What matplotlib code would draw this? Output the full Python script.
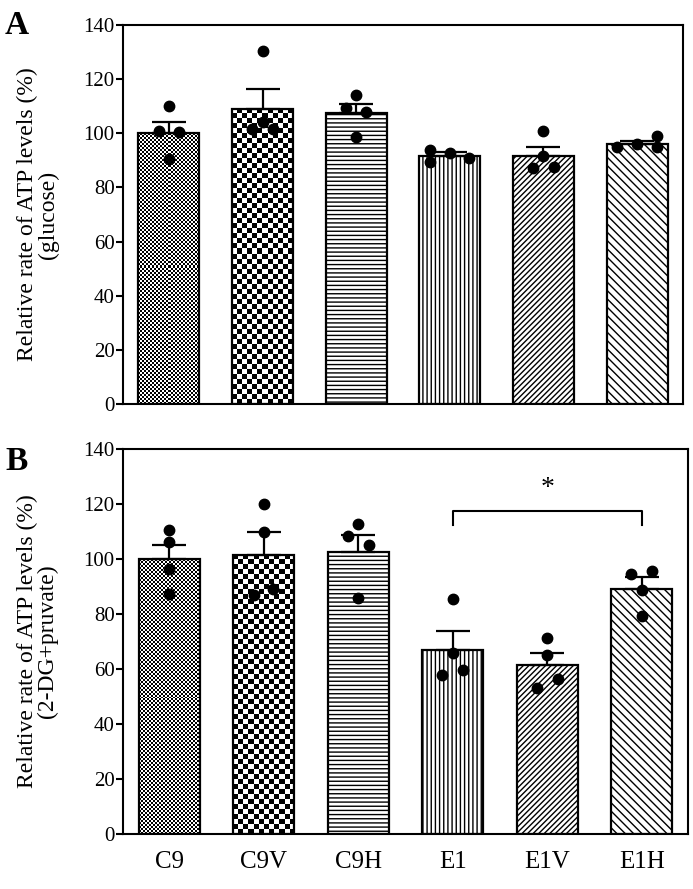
import numpy as np
import matplotlib
matplotlib.use('Agg')
import matplotlib.pyplot as plt

plt.rcParams['font.family'] = ['Liberation Serif', 'DejaVu Serif']
plt.rcParams['hatch.linewidth'] = 1.0

groups = ['C9', 'C9V', 'C9H', 'E1', 'E1V', 'E1H']

# panel A (glucose)
mean_a = [100, 109, 107.5, 91.5, 91.5, 96]
sem_a = [4, 7.5, 3.5, 1.5, 3.5, 1]
pts_a = [[101, 110, 100.5, 90.5],
         [101.5, 104, 101.5, 130.5],
         [109.5, 114.3, 107.7, 98.5],
         [94, 89.3, 92.6, 90.8],
         [87, 91.5, 87.5, 100.7],
         [94.9, 96, 98.9, 94.9]]
jit_a = [[-0.11, 0, 0.11, 0],
         [-0.11, 0, 0.11, 0],
         [-0.11, 0, 0.11, 0],
         [-0.21, -0.21, 0, 0.21],
         [-0.11, 0, 0.11, 0],
         [-0.21, 0, 0.21, 0.21]]

# panel B (2-DG+pruvate)
mean_b = [100, 101.5, 102.6, 67, 61.3, 89.2]
sem_b = [5.2, 8.2, 6.3, 6.7, 4.5, 4.1]
pts_b = [[110.4, 106.3, 96.3, 87.4],
         [120, 110, 87, 89.2],
         [112.6, 108.2, 105.2, 85.9],
         [85.5, 65.8, 58, 59.5],
         [71.4, 65, 53.2, 56.5],
         [94.4, 95.5, 88.8, 79.2]]
jit_b = [[0, 0, 0, 0],
         [0, 0, -0.1, 0.1],
         [0, -0.11, 0.11, 0],
         [0, 0, -0.11, 0.11],
         [0, 0, -0.11, 0.11],
         [-0.11, 0.11, 0, 0]]

# fill styles: ('checker', cell px) or hatch string
fills = [('checker', 2.0), ('checker', 5.0), '----', '||||', '//////', '\\\\\\\\']

W, H = 693, 889
fig = plt.figure(figsize=(W / 100, H / 100), dpi=100)
ax_a = fig.add_axes([123 / W, 1 - 404 / H, 560 / W, 379 / H])
ax_b = fig.add_axes([123 / W, 1 - 834 / H, 565 / W, 385 / H])


def draw_panel(ax, means, sems, pts, jit, ylabel, show_x):
    x = np.arange(len(groups))
    ax.set_xlim(-0.49, 5.49)
    ax.set_ylim(0, 140)
    px_x = ax.transData.transform((1, 0))[0] - ax.transData.transform((0, 0))[0]
    px_y = ax.transData.transform((0, 1))[1] - ax.transData.transform((0, 0))[1]
    bw = 0.65
    for i, m in enumerate(means):
        f = fills[i]
        if isinstance(f, tuple):
            cell = f[1]
            nx = max(1, int(round(bw * px_x / cell)))
            ny = max(1, int(round(m * px_y / cell)))
            arr = np.add.outer(np.arange(ny), np.arange(nx)) % 2
            ax.imshow(arr, cmap='gray_r', vmin=0, vmax=1, origin='lower',
                      extent=(x[i] - bw / 2, x[i] + bw / 2, 0, m),
                      aspect='auto', interpolation='nearest', zorder=1)
            ax.bar(x[i], m, width=bw, facecolor='none', edgecolor='k',
                   linewidth=1.6, zorder=2)
        else:
            ax.bar(x[i], m, width=bw, facecolor='white', edgecolor='k',
                   hatch=f, linewidth=1.6, zorder=2)
    ax.errorbar(x, means, yerr=[np.zeros(len(sems)), sems], fmt='none',
                ecolor='k', elinewidth=1.6, capsize=12, capthick=1.6, zorder=3)
    for i in range(len(groups)):
        ax.plot(x[i] + np.array(jit[i]), pts[i], 'o', color='k', ms=7.5,
                mec='k', zorder=4, clip_on=False)
    ax.set_xlim(-0.49, 5.49)
    ax.set_ylim(0, 140)
    ax.set_yticks(np.arange(0, 141, 20))
    ax.tick_params(axis='y', direction='out', length=5, width=1.5,
                   labelsize=15, pad=1)
    ax.set_xticks(x)
    if show_x:
        ax.set_xticklabels(groups, fontsize=18)
        ax.tick_params(axis='x', length=0, pad=12)
    else:
        ax.set_xticklabels([])
        ax.tick_params(axis='x', length=0)
    for s in ax.spines.values():
        s.set_linewidth(1.5)
    ax.set_ylabel(ylabel, fontsize=17, linespacing=0.95)
    ax.yaxis.set_label_coords(-0.115, 0.5)


draw_panel(ax_a, mean_a, sem_a, pts_a, jit_a,
           'Relative rate of ATP levels (%)\n(glucose)', False)
draw_panel(ax_b, mean_b, sem_b, pts_b, jit_b,
           'Relative rate of ATP levels (%)\n(2-DG+pruvate)', True)

# significance bracket E1 vs E1H
ax_b.plot([3, 3, 5, 5], [112.5, 117.5, 117.5, 112.5], color='k', lw=1.5, zorder=5)
ax_b.text(4, 121, '*', ha='center', va='bottom', fontsize=20)

fig.text(5 / W, 1 - 34 / H, 'A', fontsize=24, fontweight='bold')
fig.text(5 / W, 1 - 470 / H, 'B', fontsize=24, fontweight='bold')

fig.savefig('out.png', dpi=100)
